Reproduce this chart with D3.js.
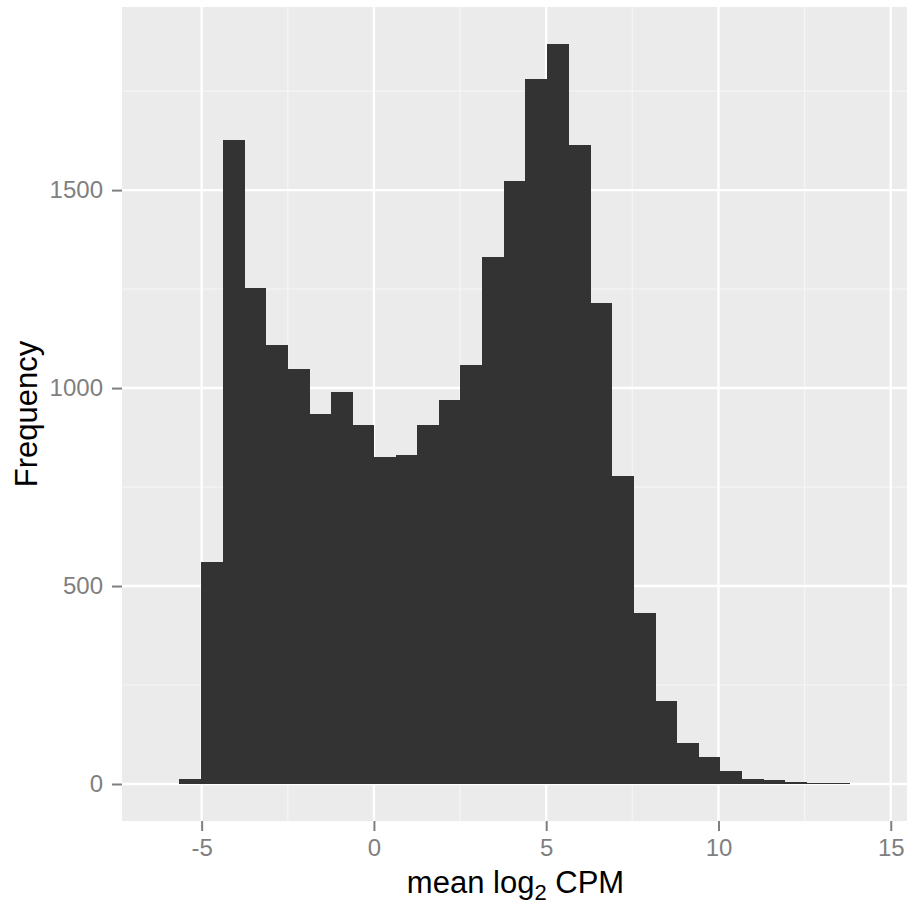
<!DOCTYPE html>
<html>
<head>
<meta charset="utf-8">
<script src="https://d3js.org/d3.v7.min.js"></script>
<style>
    body { margin: 0; background: #ffffff; }
    svg { display: block; font-family: "Liberation Sans", Arial, Helvetica, sans-serif; }
</style>
</head>
<body>
<div id="visu"></div>
<script>

// histogram bin edges (mean log2 CPM)
var binEdges = [-5.649, -5.022, -4.394, -3.766, -3.139, -2.511, -1.883, -1.256, -0.628, 0,
    0.628, 1.255, 1.883, 2.511, 3.139, 3.766, 4.394, 5.022, 5.649, 6.277,
    6.905, 7.532, 8.160, 8.788, 9.416, 10.043, 10.671, 11.299, 11.926, 12.554,
    13.182, 13.809];

// frequency per bin
var binCounts = [12, 561, 1626, 1252, 1109, 1047, 935, 990, 906, 827,
    832, 906, 970, 1057, 1331, 1523, 1781, 1869, 1614, 1215,
    777, 431, 209, 103, 68, 33, 12, 11, 6, 2, 1];

var xTicks = [-5, 0, 5, 10, 15];
var xMinor = [-2.5, 2.5, 7.5, 12.5];
var yTicks = [0, 500, 1000, 1500];
var yMinor = [250, 750, 1250, 1750];

var width = 908, height = 905;
var panel = { left: 122, top: 7, right: 907, bottom: 821 };

function getData() {
    return binCounts.map(function (c, i) {
        return { x0: binEdges[i], x1: binEdges[i + 1], count: c };
    });
}

// ggplot prints plain hyphen minus and no thousands separator
function plainLabel(d) { return String(d); }

window.onload = () => {
    var data = getData();

    // ggplot style: one empty bin each side, then 5% expansion
    var w = binEdges[1] - binEdges[0];
    var lo = binEdges[0] - w, hi = binEdges[binEdges.length - 1] + w;
    var pad = 0.05 * (hi - lo);
    var x = d3.scaleLinear()
        .domain([lo - pad, hi + pad])
        .range([panel.left, panel.right]);

    var maxCount = d3.max(binCounts);
    var y = d3.scaleLinear()
        .domain([-0.05 * maxCount, 1.05 * maxCount])
        .range([panel.bottom, panel.top]);

    var svg = d3.select("#visu").append("svg")
        .attr("width", width)
        .attr("height", height);

    svg.append("rect")
        .attr("x", panel.left)
        .attr("y", panel.top)
        .attr("width", panel.right - panel.left)
        .attr("height", panel.bottom - panel.top)
        .attr("fill", "#ebebeb");

    var grid = svg.append("g").attr("class", "grid");
    grid.selectAll("line.xminor").data(xMinor).enter().append("line")
        .attr("x1", d => x(d)).attr("x2", d => x(d))
        .attr("y1", panel.top).attr("y2", panel.bottom)
        .attr("stroke", "#f5f5f5").attr("stroke-width", 1.2);
    grid.selectAll("line.yminor").data(yMinor).enter().append("line")
        .attr("x1", panel.left).attr("x2", panel.right)
        .attr("y1", d => y(d)).attr("y2", d => y(d))
        .attr("stroke", "#f5f5f5").attr("stroke-width", 1.2);
    grid.selectAll("line.xmajor").data(xTicks).enter().append("line")
        .attr("x1", d => x(d)).attr("x2", d => x(d))
        .attr("y1", panel.top).attr("y2", panel.bottom)
        .attr("stroke", "#ffffff").attr("stroke-width", 2.4);
    grid.selectAll("line.ymajor").data(yTicks).enter().append("line")
        .attr("x1", panel.left).attr("x2", panel.right)
        .attr("y1", d => y(d)).attr("y2", d => y(d))
        .attr("stroke", "#ffffff").attr("stroke-width", 2.4);

    // crisp edges so neighbouring bars show no seams;
    // tiny counts still get a 1px sliver like the original device did
    var bars = svg.append("g").attr("class", "bars")
        .attr("shape-rendering", "crispEdges");
    bars.selectAll("rect").data(data).enter().append("rect")
        .attr("x", d => x(d.x0))
        .attr("width", d => x(d.x1) - x(d.x0) + 0.5)
        .attr("y", d => y(0) - Math.max(y(0) - y(d.count), 1))
        .attr("height", d => Math.max(y(0) - y(d.count), 1))
        .attr("fill", "#333333");

    // axes
    var xAxis = svg.append("g")
        .attr("transform", "translate(0," + panel.bottom + ")")
        .call(d3.axisBottom(x).tickValues(xTicks).tickFormat(plainLabel).tickSize(10).tickPadding(8));
    var yAxis = svg.append("g")
        .attr("transform", "translate(" + panel.left + ",0)")
        .call(d3.axisLeft(y).tickValues(yTicks).tickFormat(plainLabel).tickSize(10).tickPadding(9));

    [xAxis, yAxis].forEach(function (ax) {
        ax.select(".domain").remove();
        ax.selectAll(".tick line").attr("stroke", "#7f7f7f").attr("stroke-width", 2);
        ax.selectAll(".tick text")
            .attr("fill", "#7f7f7f")
            .style("font-size", "24px")
            .style("font-family", "'Liberation Sans', Arial, sans-serif");
    });

    // axis titles
    var xt = svg.append("text")
        .attr("x", (panel.left + panel.right) / 2 + 1)
        .attr("y", 893)
        .attr("text-anchor", "middle")
        .style("font-size", "31px")
        .attr("fill", "#000");
    xt.append("tspan").text("mean log");
    xt.append("tspan").attr("dy", 7).style("font-size", "22px").text("2");
    xt.append("tspan").attr("dy", -7).text(" CPM");

    svg.append("text")
        .attr("transform", "translate(37," + ((panel.top + panel.bottom) / 2) + ") rotate(-90)")
        .attr("text-anchor", "middle")
        .style("font-size", "31px")
        .attr("fill", "#000")
        .text("Frequency");
}
</script>
</body>
</html>
